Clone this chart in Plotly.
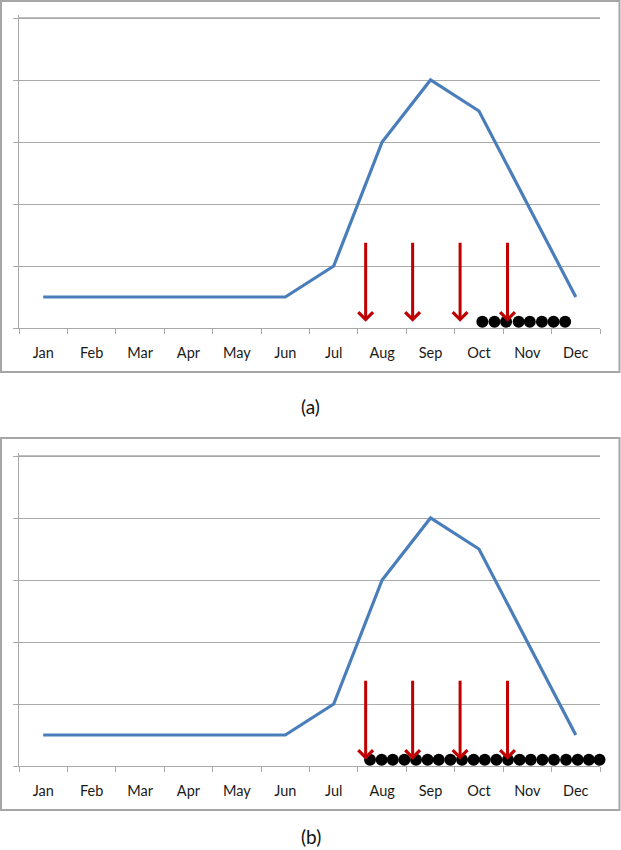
import plotly.graph_objects as go

# ---------------- data ----------------
months = ["Jan", "Feb", "Mar", "Apr", "May", "Jun", "Jul", "Aug", "Sep", "Oct", "Nov", "Dec"]
month_pos = list(range(12))
curve_values = [0.5, 0.5, 0.5, 0.5, 0.5, 0.5, 1.0, 3.0, 4.0, 3.5, 2.0, 0.5]

arrow_x = [6.66, 7.63, 8.61, 9.59]
arrow_top = 1.4
arrow_tip = 0.1

dots_a_x = [9.07, 9.32, 9.56, 9.82, 10.05, 10.30, 10.54, 10.78]
dots_b_x = [6.75, 6.99, 7.22, 7.46, 7.70, 7.94, 8.17, 8.41, 8.65, 8.89, 9.12,
            9.36, 9.60, 9.84, 10.07, 10.31, 10.55, 10.80, 11.04, 11.27, 11.49]
dot_y = 0.1

panel_labels = ["(a)", "(b)"]
y_ticks = [0, 1, 2, 3, 4, 5]
# --------------------------------------

W, H = 621, 850
FONT = "Lato"
GRID = "#A9A9A9"
BLUE = "#4A7EBB"
RED = "#C00000"
PLOT_L, PLOT_R = 19, 600
HEADROOM = 0.05       # keeps the top grid line off the range end
PX_PER_UNIT = 62.0

def px_x(p):
    return p / W

def px_y(p):
    return 1 - p / H

fig = go.Figure()

panels = [
    dict(xa="x", ya="y", top=18, bottom=328, box=(1, 372), dots=dots_a_x, lab_y=406),
    dict(xa="x2", ya="y2", top=456, bottom=766, box=(438, 810), dots=dots_b_x, lab_y=836),
]

shapes = []
annotations = []
for i, p in enumerate(panels):
    # top gridline drawn as a thin grey trace line across the full x range
    fig.add_trace(go.Scatter(x=[-0.5, 11.5], y=[max(y_ticks)] * 2, mode="lines",
                             line=dict(color=GRID, width=1.3), xaxis=p["xa"], yaxis=p["ya"],
                             showlegend=False, hoverinfo="skip"))
    fig.add_trace(go.Scatter(x=month_pos, y=curve_values, mode="lines",
                             line=dict(color=BLUE, width=3.2), xaxis=p["xa"], yaxis=p["ya"],
                             showlegend=False, hoverinfo="skip"))
    fig.add_trace(go.Scatter(x=p["dots"], y=[dot_y] * len(p["dots"]), mode="markers",
                             marker=dict(color="black", size=12, line=dict(width=0)),
                             xaxis=p["xa"], yaxis=p["ya"], showlegend=False,
                             cliponaxis=False, hoverinfo="skip"))
    for ax_x in arrow_x:
        annotations.append(dict(x=ax_x, y=arrow_tip, ax=ax_x, ay=arrow_top,
                                xref=p["xa"], yref=p["ya"], axref=p["xa"], ayref=p["ya"],
                                showarrow=True, arrowhead=4, arrowsize=0.95, arrowwidth=3,
                                arrowcolor=RED, standoff=0, text=""))
    annotations.append(dict(x=px_x(310.5), y=px_y(p["lab_y"]), xref="paper", yref="paper",
                            text=panel_labels[i], showarrow=False, xanchor="center",
                            yanchor="middle", font=dict(family=FONT, size=19, color="#111")))
    shapes.append(dict(type="rect", xref="paper", yref="paper",
                       x0=px_x(1), x1=px_x(619.5), y0=px_y(p["box"][1]), y1=px_y(p["box"][0]),
                       line=dict(color="#A6A6A6", width=2), fillcolor="rgba(0,0,0,0)", layer="below"))

def xaxis_cfg(anchor):
    return dict(domain=[px_x(PLOT_L), px_x(PLOT_R)], range=[-0.5, 11.5], anchor=anchor,
                tickmode="array", tickvals=month_pos, ticktext=months, ticks="",
                showline=True, linecolor=GRID, linewidth=1.2, showgrid=False, zeroline=False,
                ticklabelstandoff=11,
                tickfont=dict(family=FONT, size=14.5, color="#1a1a1a"),
                minor=dict(tickmode="array", tickvals=[v - 0.5 for v in month_pos] + [11.5],
                           ticks="outside", ticklen=5, tickcolor=GRID, tickwidth=1.2, showgrid=False))

def yaxis_cfg(p, anchor):
    top_px = p["top"] - HEADROOM * PX_PER_UNIT
    return dict(domain=[px_y(p["bottom"]), px_y(top_px)], range=[0, max(y_ticks) + HEADROOM],
                anchor=anchor, tickmode="array", tickvals=y_ticks, showticklabels=False,
                ticks="outside", ticklen=5, tickcolor=GRID, tickwidth=1.2,
                showgrid=True, gridcolor=GRID, gridwidth=1.2,
                showline=True, linecolor=GRID, linewidth=1.2, zeroline=False)

fig.update_layout(
    width=W, height=H,
    margin=dict(l=0, r=0, t=0, b=0),
    paper_bgcolor="white", plot_bgcolor="white",
    xaxis=xaxis_cfg("y"), yaxis=yaxis_cfg(panels[0], "x"),
    xaxis2=xaxis_cfg("y2"), yaxis2=yaxis_cfg(panels[1], "x2"),
    shapes=shapes, annotations=annotations,
)

fig.write_html("out.html", config={"displayModeBar": False},
               post_script="document.body.style.margin='0';document.body.style.overflow='hidden';")
